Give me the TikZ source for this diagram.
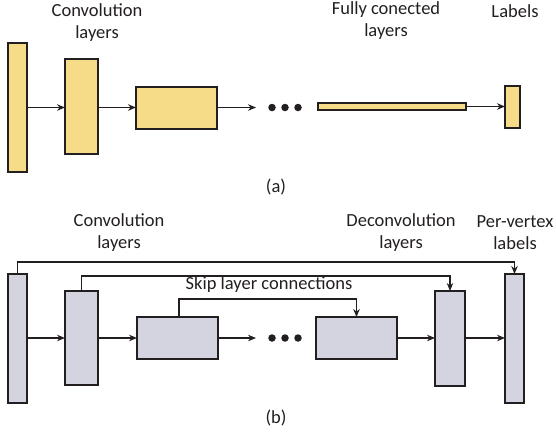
\documentclass[tikz,border=0pt]{standalone}
\usepackage{fontspec}
\setmainfont{Carlito}
\usetikzlibrary{arrows.meta}
\definecolor{yfill}{RGB}{246,219,136}
\definecolor{gfill}{RGB}{212,211,224}
\definecolor{edge}{RGB}{35,31,32}
\begin{document}
\begin{tikzpicture}[x=1pt,y=-1pt,
  lyr/.style={draw=edge,line width=1.6pt,inner sep=0pt,outer sep=0pt,rectangle},
  ylyr/.style={lyr,fill=yfill},
  glyr/.style={lyr,fill=gfill},
  conn/.style={draw=edge,line width=1.2pt,-{Stealth[length=8pt,width=6.5pt]}},
  txt/.style={font=\fontsize{18.5}{22}\selectfont,align=center,text=edge,inner sep=0pt},
  dot/.style={circle,fill=edge,inner sep=0pt,minimum size=7.5pt}]
\useasboundingbox (0,0) rectangle (556,437);
% ---------- (a)
\node[ylyr,minimum width=19pt,minimum height=129pt] (a1) at (17.5,107.5) {};
\node[ylyr,minimum width=33pt,minimum height=95pt] (a2) at (81.5,106.5) {};
\node[ylyr,minimum width=81pt,minimum height=42pt] (a3) at (176.5,108) {};
\coordinate (ae) at (256,107.5);
\node[dot] (ad1) at (272,107.5) {};
\node[dot] (ad2) at (285,107.5) {};
\node[dot] (ad3) at (298,107.5) {};
\node[ylyr,minimum width=148pt,minimum height=7pt] (a4) at (392,106.5) {};
\node[ylyr,minimum width=15pt,minimum height=42pt] (a5) at (512.5,107) {};
\draw[conn] (a1.east |- 0,107.5) -- (a2.west |- 0,107.5);
\draw[conn] (a2.east |- 0,107.5) -- (a3.west |- 0,107.5);
\draw[conn] (a3.east |- 0,107.5) -- (ae);
\draw[conn] (a4.east) -- (a5.west |- a4.east);
\node[txt] (ta1) at (97,23) {Convolution\\layers};
\node[txt] (ta2) at (386,21) {Fully conected\\layers};
\node[txt] (ta3) at (515,11) {Labels};
\node[txt] (ta4) at (276,187) {(a)};
% ---------- (b)
\node[glyr,minimum width=19pt,minimum height=129pt] (b1) at (17.5,338.5) {};
\node[glyr,minimum width=33pt,minimum height=94pt] (b2) at (81.5,338) {};
\node[glyr,minimum width=81pt,minimum height=42pt] (b3) at (177.5,338) {};
\coordinate (be) at (256,338);
\node[dot] (bd1) at (272,338) {};
\node[dot] (bd2) at (285,338) {};
\node[dot] (bd3) at (298,338) {};
\node[glyr,minimum width=81pt,minimum height=42pt] (b4) at (356.5,338) {};
\node[glyr,minimum width=30pt,minimum height=95pt] (b5) at (450,338.5) {};
\node[glyr,minimum width=19pt,minimum height=129pt] (b6) at (514.5,338.5) {};
\draw[conn] (b1.east |- 0,338) -- (b2.west |- 0,338);
\draw[conn] (b2.east |- 0,338) -- (b3.west |- 0,338);
\draw[conn] (b3.east) -- (be);
\draw[conn] (b4.east) -- (b5.west |- b4.east);
\draw[conn] (b5.east |- 0,338) -- (b6.west |- 0,338);
% skip connections
\draw[conn] (b1.north) |- (300,262) -| (b6.north);
\draw[conn] (b2.north) |- (300,276) -| (b5.north);
\draw[conn] ([xshift=1.5pt]b3.north) |- (300,299) -| (b4.north);
\node[txt] (ts) at (269,285) {Skip layer connections};
\node[txt] (tb1) at (119,233) {Convolution\\layers};
\node[txt] (tb2) at (401,233) {Deconvolution\\layers};
\node[txt] (tb3) at (515,233) {Per-vertex\\labels};
\node[txt] (tb4) at (276,418) {(b)};
\end{tikzpicture}
\end{document}
